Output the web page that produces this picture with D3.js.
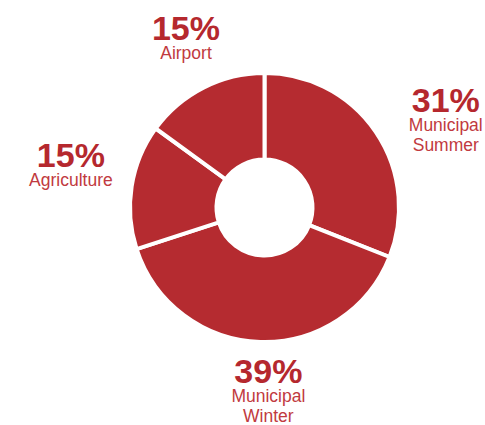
<!DOCTYPE html>
<html>
<head>
<meta charset="utf-8">
<script src="https://cdn.jsdelivr.net/npm/d3@7"></script>
<style>
  html, body { margin: 0; padding: 0; background: #ffffff; }
  svg { display: block; }
  text { font-family: "Liberation Sans", Arial, Helvetica, sans-serif; }
</style>
</head>
<body>
<div id="chart"></div>
<script>
// Water use by sector (share of total, %)
const categories = ["Municipal Summer", "Municipal Winter", "Agriculture", "Airport"];
const shares = [31, 39, 15, 15];
// Label text split onto lines
const labelLines = [["Municipal", "Summer"], ["Municipal", "Winter"], ["Agriculture"], ["Airport"]];

// Label placement tweaks (px) relative to each slice's outer centroid
const labelNudge = [[20, 14], [10, -19], [-1, -10], [10, 6]];

const width = 485, height = 425;
const cx = 264.5, cy = 207.5;
const outerR = 134.5, innerR = 48, labelR = 195;
const sliceColor = "#b52b30";
const pctColor = "#b5282e";
const nameColor = "#c13a40";

const svg = d3.select("#chart").append("svg")
  .attr("width", width)
  .attr("height", height);

const data = categories.map((c, i) => ({ name: c, value: shares[i], lines: labelLines[i], nudge: labelNudge[i] }));

const pie = d3.pie().sort(null).value(d => d.value);
const arcs = pie(data);

const arc = d3.arc().innerRadius(innerR).outerRadius(outerR);
const labelArc = d3.arc().innerRadius(labelR).outerRadius(labelR);

const g = svg.append("g").attr("transform", `translate(${cx},${cy})`);

g.selectAll("path.slice")
  .data(arcs)
  .join("path")
  .attr("class", "slice")
  .attr("d", arc)
  .attr("fill", sliceColor)
  .attr("stroke", "#ffffff")
  .attr("stroke-width", 4)
  .attr("stroke-linejoin", "miter");

const labels = g.selectAll("g.label")
  .data(arcs)
  .join("g")
  .attr("class", "label")
  .attr("transform", d => {
    const [x, y] = labelArc.centroid(d);
    return `translate(${x + d.data.nudge[0]},${y + d.data.nudge[1]})`;
  });

labels.append("text")
  .attr("text-anchor", "middle")
  .attr("font-size", 34)
  .attr("font-weight", "bold")
  .attr("fill", pctColor)
  .text(d => d.data.value + "%");

labels.each(function(d) {
  const sel = d3.select(this);
  d.data.lines.forEach((line, i) => {
    sel.append("text")
      .attr("text-anchor", "middle")
      .attr("y", 19 + i * 20)
      .attr("font-size", 17.5)
      .attr("fill", nameColor)
      .text(line);
  });
});
</script>
</body>
</html>
